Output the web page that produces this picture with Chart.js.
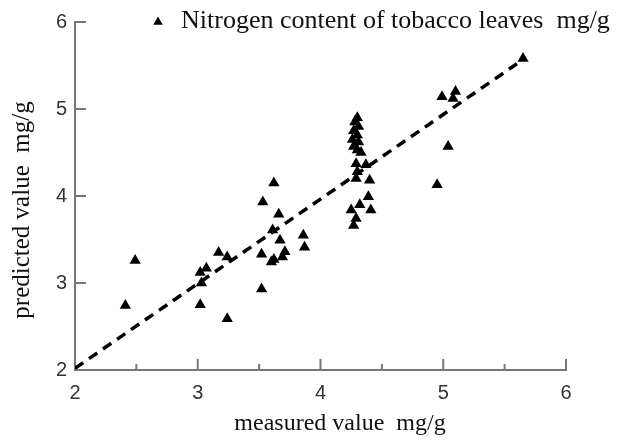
<!DOCTYPE html>
<html>
<head>
<meta charset="utf-8">
<script src="https://cdn.jsdelivr.net/npm/chart.js@4.4.1/dist/chart.umd.min.js"></script>
<style>
html, body { margin: 0; padding: 0; background: #fff; }
#wrap { width: 621px; height: 440px; }
</style>
</head>
<body>
<div id="wrap"><canvas id="chart" width="621" height="440"></canvas></div>
<script>
// measured vs predicted nitrogen content, mg/g
var measured = [
    2.41, 2.49, 3.02, 3.24, 3.02, 3.07, 3.03, 3.17, 3.24,
    3.62, 3.53, 3.66, 3.61, 3.67, 3.86, 3.87, 3.52, 3.71, 3.62, 3.60, 3.69, 3.52,
    4.30, 4.28, 4.31, 4.27, 4.30, 4.26, 4.31, 4.27, 4.30, 4.33,
    4.29, 4.37, 4.30, 4.40, 4.29, 4.39, 4.32, 4.25, 4.41, 4.29, 4.27,
    4.95, 5.04, 4.99, 5.08, 5.10, 5.65
];
var predicted = [
    2.74, 3.26, 2.75, 2.59, 3.12, 3.17, 3.00, 3.35, 3.30,
    4.15, 3.93, 3.79, 3.61, 3.49, 3.55, 3.41, 3.33, 3.36, 3.27, 3.24, 3.30, 2.93,
    4.90, 4.85, 4.80, 4.75, 4.70, 4.65, 4.62, 4.57, 4.53, 4.50,
    4.37, 4.36, 4.28, 4.18, 4.20, 3.99, 3.90, 3.84, 3.84, 3.74, 3.66,
    4.13, 4.57, 5.14, 5.12, 5.20, 5.58
];
var fitX = [2, 5.6];
var fitY = [2.02, 5.52];
var majorTicks = [2, 3, 4, 5, 6];
var minorTicksX = [2.5, 3.5, 4.5, 5.5];
var seriesName = "Nitrogen content of tobacco leaves  mg/g";
var xTitle = "measured value  mg/g";
var yTitle = "predicted value  mg/g";

var points = measured.map(function (m, i) {
    return {x: m, y: predicted[i]};
});
var fitLine = fitX.map(function (v, i) {
    return {x: v, y: fitY[i]};
});

// inward tick marks like the original figure
var innerTicks = {
    id: 'innerTicks',
    afterDraw: function (chart) {
        var ctx = chart.ctx;
        var xs = chart.scales.x, ys = chart.scales.y;
        var bottom = chart.chartArea.bottom, left = chart.chartArea.left;
        ctx.save();
        ctx.strokeStyle = '#777';
        ctx.lineWidth = 2;
        ctx.beginPath();
        majorTicks.forEach(function (v) {
            if (v > 2) {
                var px = xs.getPixelForValue(v);
                ctx.moveTo(px, bottom);
                ctx.lineTo(px, bottom - 11);
                var py = ys.getPixelForValue(v);
                ctx.moveTo(left, py);
                ctx.lineTo(left + 11, py);
            }
        });
        minorTicksX.forEach(function (v) {
            var px = xs.getPixelForValue(v);
            ctx.moveTo(px, bottom);
            ctx.lineTo(px, bottom - 6);
        });
        ctx.stroke();
        ctx.restore();
    }
};

// legend in the top right corner + axis titles
var labelsPlugin = {
    id: 'labelsPlugin',
    afterDraw: function (chart) {
        var ctx = chart.ctx;
        ctx.save();
        ctx.fillStyle = '#000';
        Chart.helpers.drawPoint(ctx, {pointStyle: 'triangle', radius: 5.5, rotation: 0}, 158, 22);
        ctx.fillStyle = '#111';
        ctx.font = '26px "Liberation Serif"';
        ctx.textBaseline = 'middle';
        ctx.textAlign = 'left';
        ctx.fillText(chart.data.datasets[0].label, 181, 21);

        ctx.font = '24px "Liberation Serif"';
        ctx.textAlign = 'center';
        ctx.fillText(xTitle, 340, 424);
        ctx.font = '25px "Liberation Serif"';
        ctx.translate(22, 210);
        ctx.rotate(-Math.PI / 2);
        ctx.fillText(yTitle, 0, 0);
        ctx.restore();
    }
};

var canvas = document.getElementById("chart");
var myChart = new Chart(canvas, {
    type: 'scatter',
    data: {
        datasets: [{
                label: seriesName,
                data: points,
                pointStyle: 'triangle',
                pointRadius: 6.5,
                backgroundColor: '#000',
                borderColor: '#000',
                borderWidth: 0
            }, {
                label: 'fit',
                type: 'line',
                data: fitLine,
                borderColor: '#000',
                borderWidth: 3.5,
                borderDash: [10, 7],
                pointRadius: 0,
                fill: false
            }]
    },
    options: {
        responsive: false,
        animation: false,
        layout: {padding: {top: 22, right: 55, left: 0, bottom: 0}},
        plugins: {
            legend: {display: false},
            tooltip: {enabled: false}
        },
        scales: {
            x: {
                type: 'linear',
                min: 2,
                max: 6,
                ticks: {
                    stepSize: 1,
                    padding: 11,
                    color: '#333',
                    font: {family: 'Liberation Sans', size: 20}
                },
                grid: {display: false, drawTicks: false},
                border: {display: true, color: '#777', width: 2},
                afterFit: function (s) { s.height = 70; }
            },
            y: {
                type: 'linear',
                min: 2,
                max: 6,
                ticks: {
                    stepSize: 1,
                    padding: 8,
                    color: '#333',
                    font: {family: 'Liberation Sans', size: 20}
                },
                grid: {display: false, drawTicks: false},
                border: {display: true, color: '#777', width: 2},
                afterFit: function (s) { s.width = 75; }
            }
        }
    },
    plugins: [innerTicks, labelsPlugin]
});
</script>
</body>
</html>
